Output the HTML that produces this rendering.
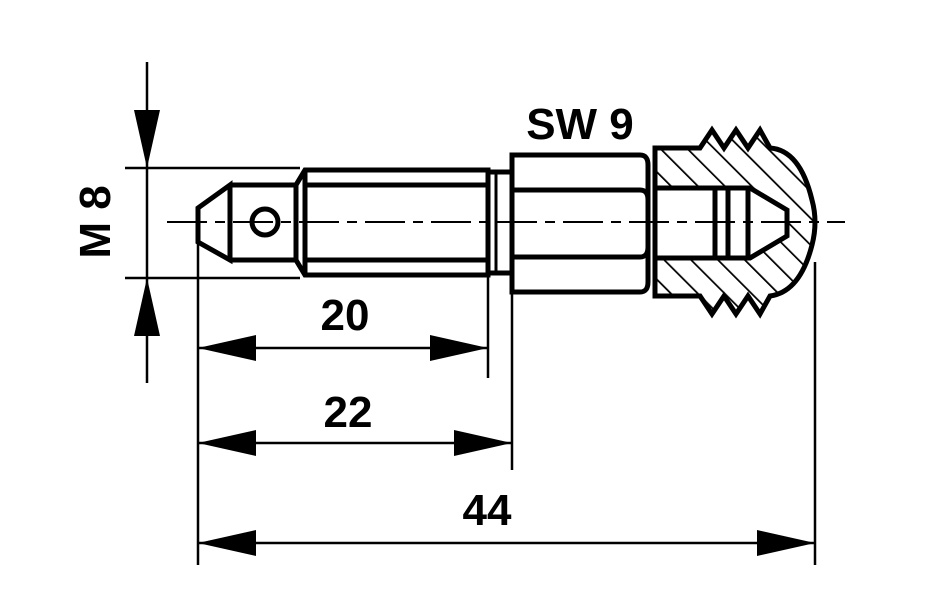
<!DOCTYPE html>
<html><head><style>html,body{margin:0;padding:0;background:#fff}svg{display:block}</style></head>
<body>
<svg width="927" height="607" viewBox="0 0 927 607" xmlns="http://www.w3.org/2000/svg">
<defs>
<pattern id="h" width="19" height="19" patternUnits="userSpaceOnUse" patternTransform="rotate(-45)">
<line x1="0" y1="0" x2="0" y2="19" stroke="#000" stroke-width="3.5"/>
</pattern>
<clipPath id="nut"><path d="M655 148 L700 148 L712 130 L724 148 L736 130 L748 148 L760 130 L770 148 Q800 150 812 200 Q818 222 812 245 Q800 292 770 296 L760 314 L748 296 L736 314 L724 296 L712 314 L700 296 L655 296 Z"/></clipPath>
</defs>
<g fill="none" stroke="#000" stroke-width="5">
<g clip-path="url(#nut)"><rect x="640" y="120" width="200" height="200" fill="url(#h)" stroke="none"/></g>
<path d="M655 188 L750 188 L787 210 L787 236 L750 258 L655 258 Z" fill="#fff" stroke="none"/>
<path d="M655 148 L700 148 L712 130 L724 148 L736 130 L748 148 L760 130 L770 148 Q800 150 812 200 Q818 222 812 245 Q800 292 770 296 L760 314 L748 296 L736 314 L724 296 L712 314 L700 296 L655 296 Z"/>
<path d="M655 188 L750 188 L787 210 L787 236 L750 258 L655 258"/>
<line x1="715" y1="188" x2="715" y2="258"/>
<line x1="728" y1="188" x2="728" y2="258"/>
<line x1="748" y1="188" x2="748" y2="258"/>
<path d="M512 155 L640 155 Q648 155 648 165 L648 282 Q648 292 640 292 L512 292 Z"/>
<path d="M512 190 L640 190 Q648 190 648 200"/>
<path d="M512 257 L640 257 Q648 257 648 247"/>
<path d="M305 170 L488 170 L488 275 L305 275 L296 260 L296 185 Z"/>
<line x1="305" y1="170" x2="305" y2="275"/>
<line x1="305" y1="185" x2="488" y2="185"/>
<line x1="305" y1="260" x2="488" y2="260"/>
<line x1="488" y1="172" x2="512" y2="172"/>
<line x1="488" y1="273" x2="512" y2="273"/>
<line x1="496" y1="172" x2="496" y2="273" stroke-width="3"/>
<path d="M230 185 L296 185 M230 260 L296 260 M230 185 L198 208 L198 242 L230 260 Z"/>
<circle cx="265" cy="222" r="13"/>
</g>
<line x1="167" y1="222" x2="845" y2="222" stroke="#000" stroke-width="2" stroke-dasharray="40,8,10,8"/>
<g stroke="#000" stroke-width="2.5" fill="none">
<line x1="147" y1="62" x2="147" y2="383"/>
<line x1="125" y1="168" x2="300" y2="168"/>
<line x1="125" y1="278" x2="300" y2="278"/>
<line x1="198" y1="242" x2="198" y2="565"/>
<line x1="488" y1="275" x2="488" y2="378"/>
<line x1="512" y1="292" x2="512" y2="470"/>
<line x1="815" y1="262" x2="815" y2="565"/>
<line x1="198" y1="348" x2="488" y2="348"/>
<line x1="198" y1="443" x2="512" y2="443"/>
<line x1="198" y1="543" x2="815" y2="543"/>
</g>
<g fill="#000">
<polygon points="147,168 134,110 160,110"/>
<polygon points="147,278 134,336 160,336"/>
<polygon points="198,348 256,335 256,361"/>
<polygon points="488,348 430,335 430,361"/>
<polygon points="198,443 256,430 256,456"/>
<polygon points="512,443 454,430 454,456"/>
<polygon points="198,543 256,530 256,556"/>
<polygon points="815,543 757,530 757,556"/>
</g>
<g font-family="Liberation Sans, sans-serif" font-weight="bold" font-size="44" fill="#000" text-anchor="middle">
<text x="345" y="330">20</text>
<text x="348" y="427">22</text>
<text x="487" y="525">44</text>
<text x="580" y="139">SW 9</text>
<text transform="translate(110,222) rotate(-90)" x="0" y="0">M 8</text>
</g>
</svg>
</body></html>
